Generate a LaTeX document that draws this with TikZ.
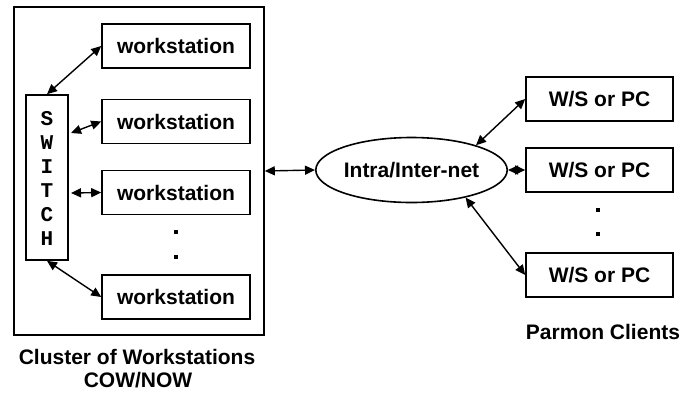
\documentclass[tikz,border=0pt]{standalone}
\usepackage{fontspec}
\setmainfont{Liberation Sans}
\newfontfamily\courfont{Liberation Mono}
\usetikzlibrary{arrows.meta,shapes.geometric,calc}
\begin{document}
\begin{tikzpicture}[x=1pt,y=-1pt,
  txt/.style={font=\bfseries\fontsize{21}{25}\selectfont},
  box/.style={draw,line width=1.6pt,txt,inner sep=0pt},
  wsbox/.style={box,minimum width=148pt,minimum height=44pt},
  clbox/.style={box,minimum width=147pt,minimum height=44pt},
  link/.style={line width=1.4pt,{Triangle[length=10pt,width=9pt]}-{Triangle[length=10pt,width=9pt]}},
  dotmark/.style={fill=black,inner sep=0pt,minimum size=3.5pt}]
\useasboundingbox (0,0) rectangle (682,392);
\node[draw,line width=1.6pt,minimum width=250pt,minimum height=328pt,inner sep=0pt] (cluster) at (139,171) {};
\node[draw,line width=1.6pt,minimum width=42pt,minimum height=165pt,inner sep=0pt] (sw) at (47,177.5) {};
\foreach \l/\yy [count=\i] in {S/119,W/143,I/167,T/191,C/215,H/239}
  \node[font=\courfont\bfseries\fontsize{21}{23}\selectfont,inner sep=0pt] (swl\i) at (47,\yy) {\l};
\node[wsbox] (ws1) at (176,46) {workstation};
\node[wsbox] (ws2) at (176,121.5) {workstation};
\node[wsbox] (ws3) at (176,192.5) {workstation};
\node[wsbox] (ws4) at (176,297) {workstation};
\node[dotmark] (d1) at (176,232) {};
\node[dotmark] (d2) at (176,257) {};
\coordinate (s2) at (71,133);
\coordinate (s3) at (71,193);
\draw[link] (sw.north) -- (ws1.west);
\draw[link] (s2) -- (ws2.west);
\draw[link] (s3) -- (ws3.west);
\draw[link] (sw.south) -- (ws4.west);
\node[draw,ellipse,line width=1.6pt,minimum width=157pt,minimum height=65pt,inner sep=0pt,txt] (net) at (411.5,170) {Intra/Inter-net};
\draw[link] (cluster.east) -- (net.west);
\node[clbox] (c1) at (599.5,99) {W/S or PC};
\node[clbox] (c2) at (599.5,170) {W/S or PC};
\node[clbox] (c3) at (599.5,275) {W/S or PC};
\node[dotmark] (d3) at (598,210) {};
\node[dotmark] (d4) at (598,234) {};
\draw[link] (net.21) -- (c1.west);
\draw[link] (net.east) -- (c2.west);
\draw[link] (net.-27) -- (c3.west);
\node[txt] (cl1) at (137,357) {Cluster of Workstations};
\node[txt] (cl2) at (138,380) {COW/NOW};
\node[txt] (pc) at (603,332) {Parmon Clients};
\end{tikzpicture}
\end{document}
